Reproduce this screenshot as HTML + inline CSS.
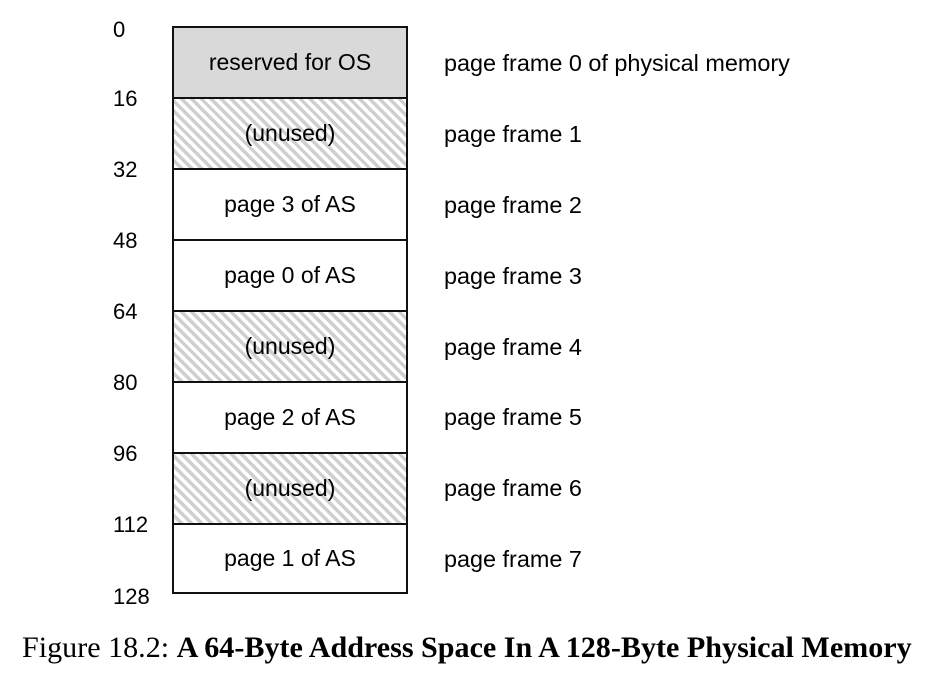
<!DOCTYPE html>
<html><head><style>
body{margin:0;background:#fff;width:938px;height:675px;position:relative;overflow:hidden;font-family:"Liberation Sans",Arial,sans-serif;}
.n{position:absolute;left:113px;font-size:22px;line-height:22px;color:#000;}
.box{position:absolute;left:172px;top:26px;width:236px;height:568px;box-sizing:border-box;border:2px solid #111;overflow:hidden;}
.r{position:absolute;left:0;width:232px;height:71px;box-sizing:border-box;border-top:2px solid #111;display:flex;align-items:center;justify-content:center;font-size:23px;background:#fff;}
.r:first-child{border-top:none;height:69px;}
.h{background:repeating-linear-gradient(45deg,#fff 0 3.5px,#cfcfcf 3.5px 7px);}
.g{background:#d9d9d9;}
.l{position:absolute;left:444px;font-size:23.4px;line-height:23px;}
.cap{position:absolute;left:22px;top:630px;font-family:"Liberation Serif",serif;font-size:30.1px;white-space:nowrap;}
</style></head><body>
<div class="box">
<div class="r g" style="top:0">reserved for OS</div>
<div class="r h" style="top:69px">(unused)</div>
<div class="r" style="top:140px">page 3 of AS</div>
<div class="r" style="top:211px">page 0 of AS</div>
<div class="r h" style="top:282px">(unused)</div>
<div class="r" style="top:353px">page 2 of AS</div>
<div class="r h" style="top:424px">(unused)</div>
<div class="r" style="top:495px;height:69px">page 1 of AS</div>
</div>
<div class="n" style="top:19px">0</div>
<div class="n" style="top:88px">16</div>
<div class="n" style="top:159px">32</div>
<div class="n" style="top:230px">48</div>
<div class="n" style="top:301px">64</div>
<div class="n" style="top:372px">80</div>
<div class="n" style="top:443px">96</div>
<div class="n" style="top:514px">112</div>
<div class="n" style="top:586px">128</div>
<div class="l" style="top:52px">page frame 0 of physical memory</div>
<div class="l" style="top:123px">page frame 1</div>
<div class="l" style="top:194px">page frame 2</div>
<div class="l" style="top:265px">page frame 3</div>
<div class="l" style="top:336px">page frame 4</div>
<div class="l" style="top:406px">page frame 5</div>
<div class="l" style="top:477px">page frame 6</div>
<div class="l" style="top:548px">page frame 7</div>
<div class="cap">Figure 18.2: <b>A 64-Byte Address Space In A 128-Byte Physical Memory</b></div>
</body></html>
